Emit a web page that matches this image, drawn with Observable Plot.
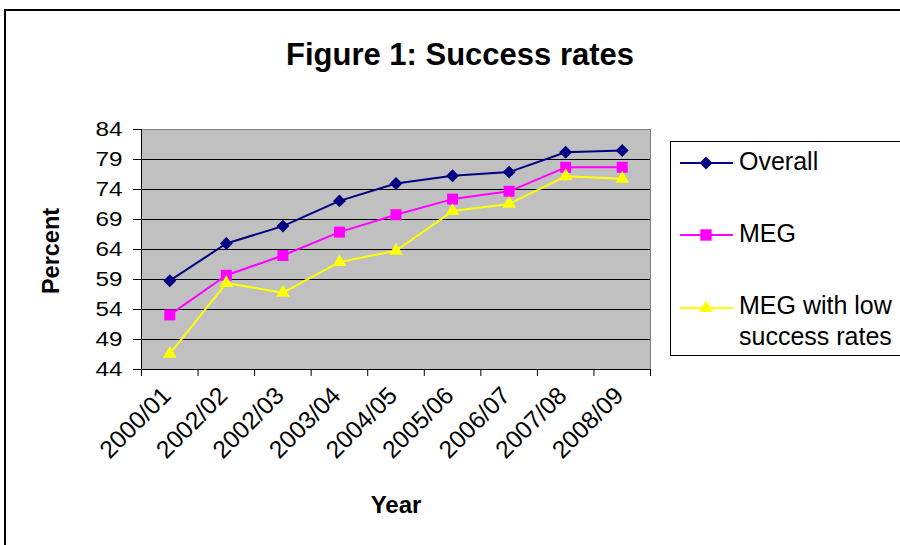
<!DOCTYPE html>
<html><head><meta charset="utf-8">
<script src="https://cdn.jsdelivr.net/npm/d3@7"></script>
<script src="https://cdn.jsdelivr.net/npm/@observablehq/plot@0.6"></script>
<style>
html,body{margin:0;padding:0;width:900px;height:545px;overflow:hidden;background:#fff;font-family:"Liberation Sans",Arial,sans-serif;color:#000;}
#border{position:absolute;left:4px;top:9px;width:1000px;height:1000px;border:2px solid #000;}
#chart{position:absolute;left:0;top:0;}
#overlay{position:absolute;left:0;top:0;}
</style>
</head><body>
<div id="border"></div>
<div id="chart"></div>
<svg id="overlay" width="900" height="545" font-family='"Liberation Sans", Arial, sans-serif'></svg>
<script>
const years = ["2000/01","2002/02","2002/03","2003/04","2004/05","2005/06","2006/07","2007/08","2008/09"];
const overall = [58.8, 65.0, 67.9, 72.1, 75.0, 76.3, 76.9, 80.2, 80.5];
const meg = [53.1, 59.7, 63.0, 66.9, 69.8, 72.4, 73.7, 77.7, 77.7];
const megLow = [46.6, 58.4, 56.8, 61.9, 63.8, 70.4, 71.6, 76.2, 75.8];
const seriesNames = ["Overall", "MEG", "MEG with low success rates"];
const legendLines = [["Overall"], ["MEG"], ["MEG with low", "success rates"]];
const seriesColors = ["#000080", "#FF00FF", "#FFFF00"];
const seriesSymbols = ["diamond2", "square", "triangle"];
const yTicks = [44, 49, 54, 59, 64, 69, 74, 79, 84];
const titleText = "Figure 1: Success rates";
const xLabel = "Year";
const yLabel = "Percent";

const seriesValues = [overall, meg, megLow];
const data = [];
seriesNames.forEach((s, k) => years.forEach((yr, i) => data.push({series: s, idx: i + 0.5, year: yr, value: seriesValues[k][i]})));
const centers = years.map((_, i) => i + 0.5);
const bounds = d3.range(years.length + 1);
const symR = {"Overall": 5.8, "MEG": 6.2, "MEG with low success rates": 5.1};

const chart = Plot.plot({
  width: 900, height: 545,
  marginLeft: 141, marginRight: 250, marginTop: 129, marginBottom: 176,
  style: {fontFamily: '"Liberation Sans", Arial, sans-serif', fontSize: "20px", color: "#000", background: "transparent", overflow: "visible"},
  x: {type: "linear", domain: [0, years.length]},
  y: {domain: [44, 84]},
  color: {domain: seriesNames, range: seriesColors},
  symbol: {domain: seriesNames, range: seriesSymbols},
  marks: [
    Plot.frame({fill: "#C0C0C0", stroke: "#808080"}),
    Plot.gridY(yTicks.slice(1, -1), {stroke: "#000", strokeOpacity: 1}),
    Plot.ruleY([44], {stroke: "#000"}),
    Plot.ruleX([0], {stroke: "#000"}),
    Plot.axisY({ticks: yTicks, tickSize: 8, tickPadding: 11, label: null, fontSize: 19.5}),
    Plot.axisX({ticks: bounds, tickSize: 7, tickFormat: () => "", label: null}),
    Plot.axisX({ticks: centers, tickSize: 0, tickPadding: 22, dx: -3, tickRotate: -45, tickFormat: d => years[Math.round(d - 0.5)], label: null, fontSize: 24.5}),
    Plot.line(data, {x: "idx", y: "value", z: "series", stroke: "series", strokeWidth: 2}),
    ...seriesNames.map(s => Plot.dot(data.filter(d => d.series === s), {x: "idx", y: "value", symbol: "series", fill: "series", r: symR[s]}))
  ]
});
document.getElementById("chart").appendChild(chart);

// the reference renders the value labels slightly wide
d3.select(chart).selectAll('g[aria-label="y-axis tick label"] text').each(function() {
  this.setAttribute("textLength", 27);
  this.setAttribute("lengthAdjust", "spacingAndGlyphs");
});

// titles and legend (overlay)
const ov = d3.select("#overlay");
ov.append("text").attr("x", 460).attr("y", 65).attr("text-anchor", "middle").attr("font-weight", "bold").attr("font-size", 31).text(titleText);
ov.append("text").attr("transform", "translate(59,251) rotate(-90)").attr("text-anchor", "middle").attr("font-weight", "bold").attr("font-size", 23.5).text(yLabel);
ov.append("text").attr("x", 396).attr("y", 513).attr("text-anchor", "middle").attr("font-weight", "bold").attr("font-size", 24).text(xLabel);

ov.append("rect").attr("x", 670.5).attr("y", 141.5).attr("width", 260).attr("height", 214).attr("fill", "#fff").attr("stroke", "#000");
const rowY = [163, 235, 308];
const baseY = [[170], [242], [314, 345]];
const symTypes = [d3.symbolDiamond2, d3.symbolSquare, d3.symbolTriangle];
const symSizes = [107, 130, 80];
seriesNames.forEach((s, k) => {
  ov.append("line").attr("x1", 680).attr("x2", 733).attr("y1", rowY[k]).attr("y2", rowY[k]).attr("stroke", seriesColors[k]).attr("stroke-width", 2);
  ov.append("path").attr("transform", `translate(706,${rowY[k]})`).attr("d", d3.symbol(symTypes[k], symSizes[k])()).attr("fill", seriesColors[k]);
  legendLines[k].forEach((line, j) => {
    ov.append("text").attr("x", 739).attr("y", baseY[k][j]).attr("font-size", 25).text(line);
  });
});
</script>
</body></html>
